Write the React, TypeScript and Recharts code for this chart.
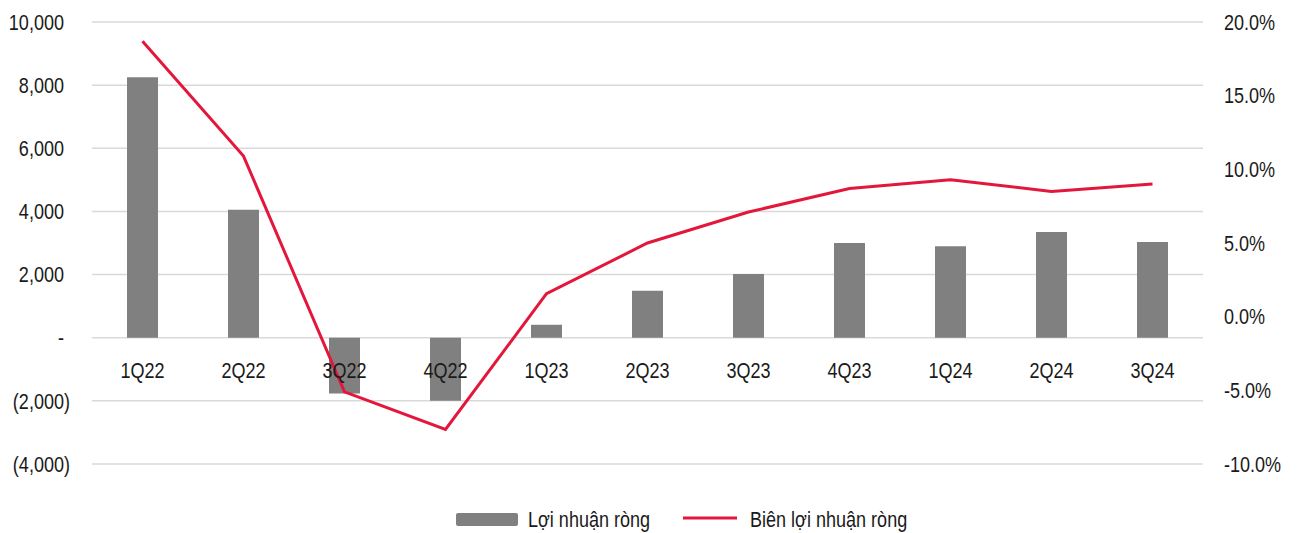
import { ComposedChart, Bar, Line, XAxis, YAxis, CartesianGrid } from 'recharts'

const quarters = ['1Q22', '2Q22', '3Q22', '4Q22', '1Q23', '2Q23', '3Q23', '4Q23', '1Q24', '2Q24', '3Q24']
const netProfit = [8250, 4050, -1770, -2000, 410, 1485, 2020, 3000, 2900, 3350, 3030]
const netMargin = [18.7, 10.9, -5.1, -7.65, 1.56, 5.0, 7.1, 8.7, 9.3, 8.5, 9.0]
const profitTicks = [-4000, -2000, 0, 2000, 4000, 6000, 8000, 10000]
const marginTicks = [-10, -5, 0, 5, 10, 15, 20]
const legendLabels = ['Lợi nhuận ròng', 'Biên lợi nhuận ròng']

// no narrow font installed, so Liberation Sans is squeezed horizontally
const FONT = "'Liberation Sans', Arial, sans-serif"
const SQUEEZE = 0.82
const FS = 22
const BAR_COLOR = '#808080'
const LINE_COLOR = '#e3173b'
const TEXT = '#1a1a1a'

const data = quarters.map((q, i) => ({ q, profit: netProfit[i], margin: netMargin[i] }))

const fmtProfit = (v: number) => {
  if (v === 0) return '-'
  const s = Math.abs(v).toLocaleString('en-US')
  return v < 0 ? `(${s})` : s
}

const fmtMargin = (v: number) => `${v.toFixed(1)}%`

interface TickProps { x?: number; y?: number; payload?: { value: number | string } }

const NarrowText = ({ x, y, anchor, children }: { x: number; y: number; anchor: 'start' | 'middle' | 'end'; children: string }) => (
  <text
    transform={`translate(${x},${y}) scale(${SQUEEZE},1)`}
    textAnchor={anchor}
    dominantBaseline="central"
    fill={TEXT}
    fontSize={FS}
    fontFamily={FONT}
  >
    {children}
  </text>
)

// category labels sit just under the zero line, not at the bottom of the plot
const QuarterTick = ({ x, y, payload }: TickProps) => (
  <NarrowText x={x ?? 0} y={(y ?? 0) - 94} anchor="middle">{String(payload?.value)}</NarrowText>
)

// accounting style: positives leave room for the closing bracket
const ProfitTick = ({ x, y, payload }: TickProps) => {
  const v = Number(payload?.value)
  const pad = v < 0 ? 0 : 6
  return <NarrowText x={(x ?? 0) - pad} y={y ?? 0} anchor="end">{fmtProfit(v)}</NarrowText>
}

const MarginTick = ({ x, y, payload }: TickProps) => (
  <NarrowText x={x ?? 0} y={y ?? 0} anchor="start">{fmtMargin(Number(payload?.value))}</NarrowText>
)

export default function App() {
  return (
    <div style={{ position: 'relative', width: 1290, height: 525 }}>
      <ComposedChart
        width={1290}
        height={470}
        data={data}
        margin={{ top: 14, right: 0, left: 0, bottom: 0 }}
      >
        <CartesianGrid yAxisId="left" vertical={false} stroke="#d9d9d9" strokeWidth={1.5} />
        <XAxis
          dataKey="q"
          height={14}
          axisLine={false}
          tickLine={false}
          tickSize={0}
          tickMargin={0}
          interval={0}
          tick={QuarterTick}
        />
        <YAxis
          yAxisId="left"
          width={84}
          domain={[-4000, 10000]}
          ticks={profitTicks}
          axisLine={false}
          tickLine={false}
          tickSize={0}
          tickMargin={22}
          tick={ProfitTick}
        />
        <YAxis
          yAxisId="right"
          orientation="right"
          width={95}
          domain={[-10, 20]}
          ticks={marginTicks}
          axisLine={false}
          tickLine={false}
          tickSize={0}
          tickMargin={21}
          tick={MarginTick}
        />
        <Bar
          yAxisId="left"
          dataKey="profit"
          fill={BAR_COLOR}
          barSize={31}
          isAnimationActive={false}
        />
        <Line
          yAxisId="right"
          type="linear"
          dataKey="margin"
          stroke={LINE_COLOR}
          strokeWidth={3}
          dot={false}
          isAnimationActive={false}
        />
      </ComposedChart>
      <svg width={1290} height={55} style={{ position: 'absolute', left: 0, top: 470 }}>
        <rect x={448} y={35} width={62} height={13} rx={2} fill={BAR_COLOR} />
        <text transform={`translate(520,49) scale(${SQUEEZE},1)`} fontSize={FS} fontFamily={FONT} fill={TEXT}>
          {legendLabels[0]}
        </text>
        <line x1={675} x2={729} y1={40} y2={40} stroke={LINE_COLOR} strokeWidth={3} />
        <text transform={`translate(742,49) scale(${SQUEEZE},1)`} fontSize={FS} fontFamily={FONT} fill={TEXT}>
          {legendLabels[1]}
        </text>
      </svg>
    </div>
  )
}
